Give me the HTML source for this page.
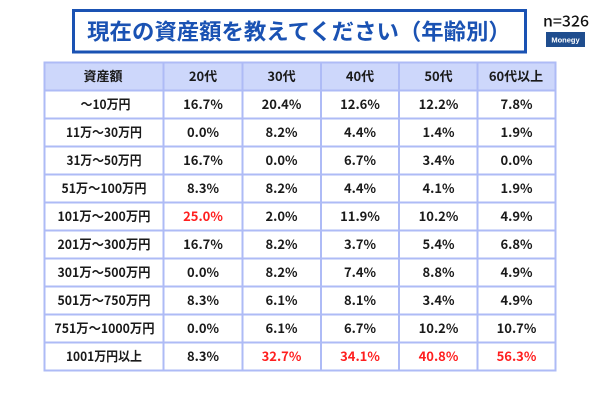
<!DOCTYPE html>
<html lang="ja">
<head>
<meta charset="utf-8">
<style>
  html,body{margin:0;padding:0;background:#fff;}
  body{width:600px;height:400px;overflow:hidden;position:relative;}
  svg{position:absolute;left:0;top:0;}
  text{font-family:"Liberation Sans","Noto Sans CJK JP",sans-serif;}
  .t{font-family:"Noto Sans CJK JP","Liberation Sans",sans-serif;font-weight:700;font-size:13px;fill:#1a1a1a;}
  .r{fill:#ff1f1f;}
</style>
</head>
<body>
<svg width="600" height="400" viewBox="0 0 600 400" xmlns="http://www.w3.org/2000/svg">
  <!-- title box -->
  <rect x="73.5" y="10.5" width="452" height="41.5" fill="#fff" stroke="#1a52b3" stroke-width="3"/>
  <text x="299" y="39.5" text-anchor="middle" style="font-family:'Noto Sans CJK JP',sans-serif;font-weight:700;font-size:22.4px;fill:#1a52b3;">現在の資産額を教えてください（年齢別）</text>
  <!-- n=326 -->
  <text x="543" y="26.5" textLength="46" lengthAdjust="spacingAndGlyphs" style="font-family:'Noto Sans CJK JP','Liberation Sans',sans-serif;font-weight:500;font-size:15px;fill:#111;">n=326</text>
  <rect x="546" y="32" width="39" height="15" fill="#1f4d8e"/>
  <text x="565.5" y="42.5" text-anchor="middle" style="font-family:'Liberation Sans',sans-serif;font-weight:700;font-size:7.5px;fill:#fff;">Monegy</text>

  <!-- header background -->
  <rect x="44.5" y="62.5" width="511" height="28" fill="#cdd7fb"/>

  <!-- grid lines -->
  <g stroke="#aebbf6" stroke-width="2" fill="none">
    <line x1="43.5" y1="62.5" x2="556.5" y2="62.5"/>
    <line x1="43.5" y1="90.5" x2="556.5" y2="90.5"/>
    <line x1="43.5" y1="118.5" x2="556.5" y2="118.5"/>
    <line x1="43.5" y1="146.5" x2="556.5" y2="146.5"/>
    <line x1="43.5" y1="174.5" x2="556.5" y2="174.5"/>
    <line x1="43.5" y1="202.5" x2="556.5" y2="202.5"/>
    <line x1="43.5" y1="230.5" x2="556.5" y2="230.5"/>
    <line x1="43.5" y1="258.5" x2="556.5" y2="258.5"/>
    <line x1="43.5" y1="286.5" x2="556.5" y2="286.5"/>
    <line x1="43.5" y1="314.5" x2="556.5" y2="314.5"/>
    <line x1="43.5" y1="342.5" x2="556.5" y2="342.5"/>
    <line x1="43.5" y1="370.5" x2="556.5" y2="370.5"/>
    <line x1="44.5" y1="61.5" x2="44.5" y2="371.5"/>
    <line x1="163.5" y1="61.5" x2="163.5" y2="371.5"/>
    <line x1="242.5" y1="61.5" x2="242.5" y2="371.5"/>
    <line x1="321" y1="61.5" x2="321" y2="371.5"/>
    <line x1="399" y1="61.5" x2="399" y2="371.5"/>
    <line x1="477.5" y1="61.5" x2="477.5" y2="371.5"/>
    <line x1="555.5" y1="61.5" x2="555.5" y2="371.5"/>
  </g>

  <!-- header -->
  <g text-anchor="middle">
    <text class="t" x="103" y="81">資産額</text>
    <text class="t" x="203" y="81">20代</text>
    <text class="t" x="281.5" y="81">30代</text>
    <text class="t" x="360" y="81">40代</text>
    <text class="t" x="438.5" y="81">50代</text>
    <text class="t" x="516" y="81">60代以上</text>
  </g>

  <g text-anchor="middle">
    <!-- row 1 -->
    <text class="t" x="105.5" y="109" textLength="50" lengthAdjust="spacingAndGlyphs">〜10万円</text>
    <text class="t" x="203" y="109">16.7%</text>
    <text class="t" x="281.5" y="109">20.4%</text>
    <text class="t" x="360" y="109">12.6%</text>
    <text class="t" x="438.5" y="109">12.2%</text>
    <text class="t" x="516.5" y="109">7.8%</text>
    <!-- row 2 -->
    <text class="t" x="104" y="137" textLength="76" lengthAdjust="spacingAndGlyphs">11万〜30万円</text>
    <text class="t" x="203" y="137">0.0%</text>
    <text class="t" x="281.5" y="137">8.2%</text>
    <text class="t" x="360" y="137">4.4%</text>
    <text class="t" x="438.5" y="137">1.4%</text>
    <text class="t" x="516.5" y="137">1.9%</text>
    <!-- row 3 -->
    <text class="t" x="104" y="165" textLength="75" lengthAdjust="spacingAndGlyphs">31万〜50万円</text>
    <text class="t" x="203" y="165">16.7%</text>
    <text class="t" x="281.5" y="165">0.0%</text>
    <text class="t" x="360" y="165">6.7%</text>
    <text class="t" x="438.5" y="165">3.4%</text>
    <text class="t" x="516.5" y="165">0.0%</text>
    <!-- row 4 -->
    <text class="t" x="104" y="193" textLength="85" lengthAdjust="spacingAndGlyphs">51万〜100万円</text>
    <text class="t" x="203" y="193">8.3%</text>
    <text class="t" x="281.5" y="193">8.2%</text>
    <text class="t" x="360" y="193">4.4%</text>
    <text class="t" x="438.5" y="193">4.1%</text>
    <text class="t" x="516.5" y="193">1.9%</text>
    <!-- row 5 -->
    <text class="t" x="104" y="221" textLength="93" lengthAdjust="spacingAndGlyphs">101万〜200万円</text>
    <text class="t r" x="203" y="221">25.0%</text>
    <text class="t" x="281.5" y="221">2.0%</text>
    <text class="t" x="360" y="221">11.9%</text>
    <text class="t" x="438.5" y="221">10.2%</text>
    <text class="t" x="516.5" y="221">4.9%</text>
    <!-- row 6 -->
    <text class="t" x="104" y="249" textLength="93" lengthAdjust="spacingAndGlyphs">201万〜300万円</text>
    <text class="t" x="203" y="249">16.7%</text>
    <text class="t" x="281.5" y="249">8.2%</text>
    <text class="t" x="360" y="249">3.7%</text>
    <text class="t" x="438.5" y="249">5.4%</text>
    <text class="t" x="516.5" y="249">6.8%</text>
    <!-- row 7 -->
    <text class="t" x="104" y="277" textLength="93" lengthAdjust="spacingAndGlyphs">301万〜500万円</text>
    <text class="t" x="203" y="277">0.0%</text>
    <text class="t" x="281.5" y="277">8.2%</text>
    <text class="t" x="360" y="277">7.4%</text>
    <text class="t" x="438.5" y="277">8.8%</text>
    <text class="t" x="516.5" y="277">4.9%</text>
    <!-- row 8 -->
    <text class="t" x="104" y="305" textLength="93" lengthAdjust="spacingAndGlyphs">501万〜750万円</text>
    <text class="t" x="203" y="305">8.3%</text>
    <text class="t" x="281.5" y="305">6.1%</text>
    <text class="t" x="360" y="305">8.1%</text>
    <text class="t" x="438.5" y="305">3.4%</text>
    <text class="t" x="516.5" y="305">4.9%</text>
    <!-- row 9 -->
    <text class="t" x="104.5" y="333" textLength="100" lengthAdjust="spacingAndGlyphs">751万〜1000万円</text>
    <text class="t" x="203" y="333">0.0%</text>
    <text class="t" x="281.5" y="333">6.1%</text>
    <text class="t" x="360" y="333">6.7%</text>
    <text class="t" x="438.5" y="333">10.2%</text>
    <text class="t" x="516.5" y="333">10.7%</text>
    <!-- row 10 -->
    <text class="t" x="104" y="361" textLength="76" lengthAdjust="spacingAndGlyphs">1001万円以上</text>
    <text class="t" x="203" y="361">8.3%</text>
    <text class="t r" x="281.5" y="361">32.7%</text>
    <text class="t r" x="360" y="361">34.1%</text>
    <text class="t r" x="438.5" y="361">40.8%</text>
    <text class="t r" x="516.5" y="361">56.3%</text>
  </g>
</svg>
</body>
</html>
